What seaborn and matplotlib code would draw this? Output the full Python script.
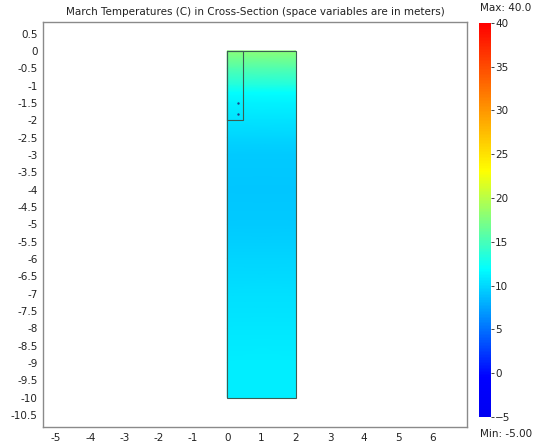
import matplotlib
matplotlib.use("Agg")
import matplotlib.pyplot as plt
from matplotlib.colors import LinearSegmentedColormap
from matplotlib.patches import Rectangle
import numpy as np
import seaborn as sns

# temperature profile (C), by depth (m)
depth = [0, -0.5, -1, -1.2, -1.5, -2, -2.5, -3, -4, -5, -6, -7, -8, -9, -10]
temps = [18.0, 15.5, 13.2, 12.0, 11.3, 10.5, 9.8, 9.4, 9.2, 9.4, 9.9, 10.3, 10.7, 11.0, 11.1]
width_x = [0, 2]
inner_box = (0, -2, 0.45, 2)  # x, y, w, h of the pipe region
probe_x = [0.3, 0.3]
probe_y = [-1.5, -1.82]

x_ticks = list(range(-5, 7))
y_ticks = [0.5 - 0.5 * i for i in range(23)]
cbar_ticks = list(range(-5, 41, 5))
vmin, vmax = -5, 40

# bright-ended jet, like the one in the picture
cmap = LinearSegmentedColormap.from_list(
    "bright_jet",
    [(0.0, (0, 0, 0.95)), (0.1, (0, 0, 1)), (0.375, (0, 1, 1)),
     (0.5, (0.5, 1, 0.5)), (0.625, (1, 1, 0)), (1.0, (1, 0, 0))],
)

sns.set_theme(style="white")
plt.rcParams["font.family"] = ["DejaVu Sans"]
txt = "#222222"
fs = 7.5

fig = plt.figure(figsize=(5.4, 4.45), dpi=100)
ax = fig.add_axes([0.0802, 0.0404, 0.7846, 0.911])
cax = fig.add_axes([0.887, 0.0629, 0.0222, 0.886])

X, Y = np.meshgrid(width_x, depth)
Z = np.tile(np.array(temps)[:, None], (1, len(width_x)))
mesh = ax.pcolormesh(X, Y, Z, cmap=cmap, vmin=vmin, vmax=vmax, shading="gouraud")

edge = "#3b5e55"
ax.add_patch(Rectangle((0, -10), 2, 10, fill=False, edgecolor=edge, linewidth=0.8))
ax.add_patch(Rectangle(inner_box[:2], inner_box[2], inner_box[3], fill=False,
                       edgecolor=edge, linewidth=0.8))
sns.scatterplot(x=probe_x, y=probe_y, ax=ax, s=3, color="#20408a", linewidth=0)

ax.set_xlim(-5.37, 7.0)
ax.set_ylim(-10.85, 0.845)
ax.set_xticks(x_ticks)
ax.set_xticklabels([str(v) for v in x_ticks])
ax.set_yticks(y_ticks)
ax.set_yticklabels([f"{v:g}" for v in y_ticks])
ax.tick_params(length=0, labelsize=fs, colors=txt, pad=4)
for s in ax.spines.values():
    s.set_color("#8a8a8a")
    s.set_linewidth(1.0)
ax.set_title("March Temperatures (C) in Cross-Section (space variables are in meters)",
             fontsize=fs, color=txt, pad=5)

cb = fig.colorbar(mesh, cax=cax, ticks=cbar_ticks)
cb.outline.set_visible(False)
cax.tick_params(length=2, width=0.6, labelsize=fs, colors=txt, pad=1)
fig.text(0.889, 0.982, "Max: 40.0", fontsize=fs, color=txt, va="center", ha="left")
fig.text(0.889, 0.024, "Min: -5.00", fontsize=fs, color=txt, va="center", ha="left")

fig.savefig("out.png", dpi=100)
